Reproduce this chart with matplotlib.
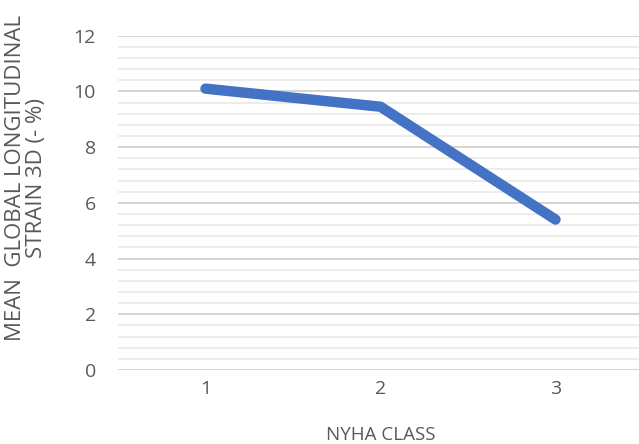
import matplotlib
matplotlib.use("Agg")
import matplotlib.pyplot as plt
import numpy as np

# Mean GLS by NYHA functional class
nyha_class = [1, 2, 3]
mean_gls = [10.1, 9.45, 5.4]
y_ticks = [0, 2, 4, 6, 8, 10, 12]

TEXT_COLOR = "#595959"
LINE_COLOR = "#4472C4"

plt.rcParams["font.family"] = ["Open Sans", "DejaVu Sans"]

fig = plt.figure(figsize=(6.39, 4.44), dpi=100)
ax = fig.add_axes([118 / 639, 74 / 444, 525 / 639, 334.3 / 444])

ax.plot(nyha_class, mean_gls, color=LINE_COLOR, linewidth=7.5,
        solid_capstyle="round", solid_joinstyle="miter", zorder=3)

ax.set_xlim(0.5, 3.5)
ax.set_ylim(0, 12)
ax.set_xticks(nyha_class)
ax.set_yticks(y_ticks)
ax.set_yticks(np.arange(0, 12.01, 0.4), minor=True)

# major and minor horizontal gridlines, no spines
ax.grid(True, axis="y", which="major", color="#d4d4d4", linewidth=1.4)
ax.grid(True, axis="y", which="minor", color="#ececec", linewidth=1.4)
ax.grid(False, axis="x")
ax.set_axisbelow(True)
for spine in ax.spines.values():
    spine.set_visible(False)

ax.tick_params(axis="both", which="both", length=0, colors=TEXT_COLOR, labelsize=14)
ax.tick_params(axis="y", pad=16)
ax.tick_params(axis="x", pad=7)

ax.set_xlabel("NYHA CLASS", color=TEXT_COLOR, fontsize=13.5, labelpad=20)
fig.text(0.041, 0.599, "MEAN  GLOBAL LONGITUDINAL\nSTRAIN 3D (- %)",
         rotation=90, ha="center", va="center", multialignment="center",
         color=TEXT_COLOR, fontsize=16, linespacing=1.02)

fig.savefig("out.png", dpi=100, facecolor="white")
